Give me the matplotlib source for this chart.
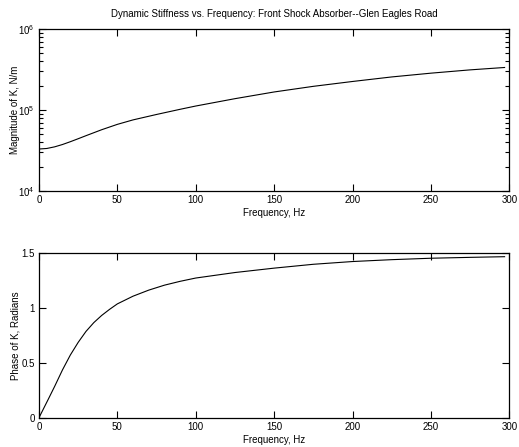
import matplotlib
matplotlib.use("Agg")
import matplotlib.pyplot as plt
from matplotlib.ticker import FormatStrFormatter, LogLocator, NullFormatter

plt.rcParams["font.family"] = ["Liberation Sans", "DejaVu Sans"]
plt.rcParams["font.size"] = 7

# frequency response of the front shock absorber
mag_freq = [0, 5, 10, 15, 20, 25, 30, 40, 50, 60, 75, 90, 100, 125,
            150, 175, 200, 225, 250, 275, 297]
magnitude = [3.30e4, 3.35e4, 3.51e4, 3.75e4, 4.06e4, 4.42e4, 4.82e4,
             5.71e4, 6.65e4, 7.55e4, 8.81e4, 1.02e5, 1.12e5, 1.38e5,
             1.67e5, 1.96e5, 2.25e5, 2.56e5, 2.85e5, 3.13e5, 3.35e5]

phase_freq = [0, 3, 6, 10, 15, 20, 25, 30, 35, 40, 45, 50, 60, 70, 80,
              90, 100, 125, 150, 175, 200, 225, 250, 275, 297]
phase = [0.0, 0.085, 0.17, 0.285, 0.435, 0.57, 0.685, 0.785, 0.865, 0.93,
         0.985, 1.035, 1.105, 1.16, 1.205, 1.24, 1.27, 1.32, 1.36, 1.395,
         1.42, 1.437, 1.45, 1.458, 1.464]

x_ticks = [0, 50, 100, 150, 200, 250, 300]
phase_ticks = [0, 0.5, 1, 1.5]

fig = plt.figure(figsize=(5.19, 4.47), dpi=100)
ax1 = fig.add_axes([0.0751, 0.5727, 0.9062, 0.3624])
ax2 = fig.add_axes([0.0751, 0.0655, 0.9062, 0.3691])

for ax in (ax1, ax2):
    ax.tick_params(which="both", direction="in", top=True, right=True,
                   width=0.8, labelsize=7, pad=3)
    ax.tick_params(which="major", length=5)
    ax.tick_params(which="minor", length=3)
    for s in ax.spines.values():
        s.set_linewidth(0.9)
    ax.set_xlim(0, 300)
    ax.set_xticks(x_ticks)
    ax.set_xlabel("Frequency, Hz", fontsize=7, labelpad=2)

ax1.semilogy(mag_freq, magnitude, color="black", linewidth=0.8)
ax1.set_ylim(1e4, 1e6)
ax1.yaxis.set_major_locator(LogLocator(base=10, numticks=5))
ax1.yaxis.set_minor_locator(LogLocator(base=10, subs=range(2, 10), numticks=10))
ax1.yaxis.set_minor_formatter(NullFormatter())
ax1.set_ylabel("Magnitude of K, N/m", fontsize=7, labelpad=-1)
ax1.set_title("Dynamic Stiffness vs. Frequency: Front Shock Absorber--Glen Eagles Road",
              fontsize=7, pad=9)

ax2.plot(phase_freq, phase, color="black", linewidth=0.8)
ax2.set_ylim(0, 1.5)
ax2.set_yticks(phase_ticks)
ax2.yaxis.set_major_formatter(FormatStrFormatter("%g"))
ax2.set_ylabel("Phase of K, Radians", fontsize=7, labelpad=1)

fig.savefig("out.png", dpi=100)
